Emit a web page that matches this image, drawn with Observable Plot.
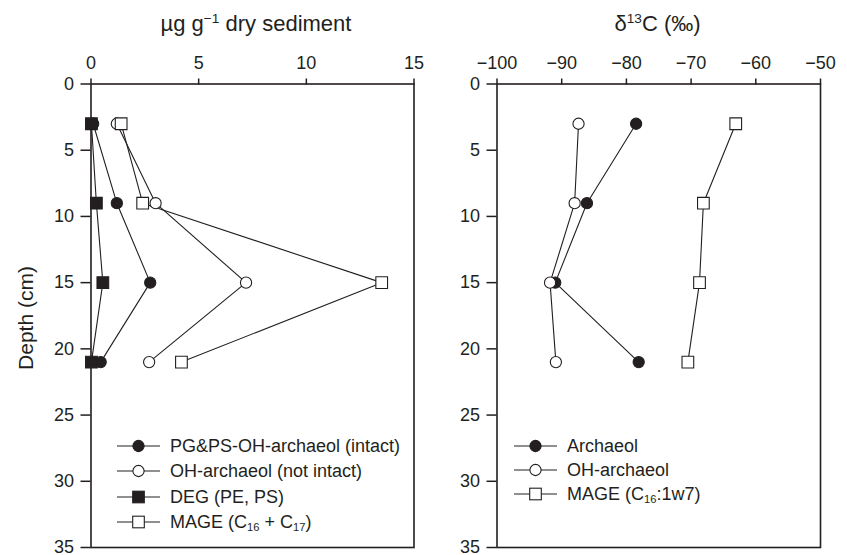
<!DOCTYPE html>
<html>
<head>
<meta charset="utf-8">
<script src="https://cdn.jsdelivr.net/npm/d3@7"></script>
<script src="https://cdn.jsdelivr.net/npm/@observablehq/plot@0.6"></script>
<style>
  body { margin: 0; background: #fff; }
  #wrap { position: relative; width: 847px; height: 555px; overflow: hidden;
          font-family: "Liberation Sans", Arial, Helvetica, sans-serif; color: #231f20; }
  #wrap svg { position: absolute; top: 0; }
  .abs { position: absolute; white-space: nowrap; line-height: 1; }
  .sup { font-size: 0.62em; position: relative; top: -0.55em; }
  .sub { font-size: 0.62em; position: relative; top: 0.3em; }
  .row { position: absolute; display: flex; align-items: center; height: 20px; white-space: nowrap; font-size: 18px; line-height: 1; }
  .row svg { position: static !important; margin-right: 10px; }
</style>
</head>
<body>
<div id="wrap"></div>
<script>
// ---- data ----
const depths = [3, 9, 15, 21];                 // cm
// left panel: concentration, µg g-1 dry sediment
const pgpsIntact   = [0.1, 1.2, 2.75, 0.45];
const ohNotIntact  = [1.2, 3.0, 7.2, 2.7];
const degPEPS      = [0.02, 0.25, 0.55, 0.02];
const mageConc     = [1.4, 2.4, 13.5, 4.2];
// right panel: δ13C (‰)
const archaeolD13  = [-78.5, -86.1, -91.0, -78.1];
const ohArchD13    = [-87.4, -88.0, -91.8, -90.9];
const mageD13      = [-63.1, -68.1, -68.7, -70.5];

const xTicksLeft  = [0, 5, 10, 15];
const xTicksRight = [-100, -90, -80, -70, -60, -50];
const yTicks      = [0, 5, 10, 15, 20, 25, 30, 35];

const legendLeft = [
  {label: "PG&amp;PS-OH-archaeol (intact)", symbol: "circle", filled: true},
  {label: "OH-archaeol (not intact)", symbol: "circle", filled: false},
  {label: "DEG (PE, PS)", symbol: "square", filled: true},
  {label: "MAGE (C<span class='sub'>16</span> + C<span class='sub'>17</span>)", symbol: "square", filled: false}
];
const legendRight = [
  {label: "Archaeol", symbol: "circle", filled: true},
  {label: "OH-archaeol", symbol: "circle", filled: false},
  {label: "MAGE (C<span class='sub'>16</span>:1w7)", symbol: "square", filled: false}
];

const ink = "#231f20";
const font = "'Liberation Sans', Arial, Helvetica, sans-serif";
const rows = vals => depths.map((d, i) => ({depth: d, value: vals[i]}));

function seriesMarks(vals, symbol, filled) {
  const data = rows(vals);
  return [
    Plot.line(data, {x: "value", y: "depth", stroke: ink, strokeWidth: 1.1})
  ];
}
function dotMarks(vals, symbol, filled) {
  const data = rows(vals);
  return Plot.dot(data, {x: "value", y: "depth", symbol,
    r: symbol === "square" ? 6.6 : 5.6,
    fill: filled ? ink : "#fff", stroke: ink, strokeWidth: 1.1});
}

const wrap = document.getElementById("wrap");

const left = Plot.plot({
  width: 430, height: 555,
  marginLeft: 90.5, marginRight: 16.5, marginTop: 83.5, marginBottom: 8,
  style: {fontFamily: font, fontSize: "18px", color: ink, background: "transparent", overflow: "visible"},
  x: {domain: [0, 15]},
  y: {domain: [0, 35], reverse: true},
  marks: [
    Plot.axisX({anchor: "top", ticks: xTicksLeft, tickSize: 6, tickPadding: 9, label: null, strokeWidth: 1.5}),
    Plot.axisY({anchor: "left", ticks: yTicks, tickSize: 10, tickPadding: 7, label: null, strokeWidth: 1.5}),
    Plot.frame({stroke: ink, strokeWidth: 1.6}),
    ...seriesMarks(degPEPS), ...seriesMarks(pgpsIntact), ...seriesMarks(ohNotIntact), ...seriesMarks(mageConc),
    dotMarks(degPEPS, "square", true),
    dotMarks(pgpsIntact, "circle", true),
    dotMarks(ohNotIntact, "circle", false),
    dotMarks(mageConc, "square", false)
  ]
});
left.style.left = "0px";
wrap.appendChild(left);

const right = Plot.plot({
  width: 417, height: 555,
  marginLeft: 66.5, marginRight: 27, marginTop: 83.5, marginBottom: 8,
  style: {fontFamily: font, fontSize: "18px", color: ink, background: "transparent", overflow: "visible"},
  x: {domain: [-100, -50]},
  y: {domain: [0, 35], reverse: true},
  marks: [
    Plot.axisX({anchor: "top", ticks: xTicksRight, tickSize: 6, tickPadding: 9, label: null, strokeWidth: 1.5}),
    Plot.axisY({anchor: "left", ticks: yTicks, tickSize: 10, tickPadding: 7, label: null, strokeWidth: 1.5}),
    Plot.frame({stroke: ink, strokeWidth: 1.6}),
    ...seriesMarks(archaeolD13), ...seriesMarks(ohArchD13), ...seriesMarks(mageD13),
    dotMarks(archaeolD13, "circle", true),
    dotMarks(ohArchD13, "circle", false),
    dotMarks(mageD13, "square", false)
  ]
});
right.style.left = "430px";
wrap.appendChild(right);

// ---- titles ----
function addText(html, x, y, size, extra) {
  const d = document.createElement("div");
  d.className = "abs";
  d.innerHTML = html;
  d.style.fontSize = size + "px";
  d.style.left = x + "px";
  d.style.top = y + "px";
  d.style.transform = extra || "translateX(-50%)";
  wrap.appendChild(d);
  return d;
}
addText("µg g<span class='sup'>−1</span> dry sediment", 256, 12.5, 22);
addText("δ<span class='sup'>13</span>C (‰)", 657.5, 12.5, 22);
addText("Depth (cm)", 25, 318, 21, "translate(-50%,-50%) rotate(-90deg)");

// ---- legends ----
function swatch(sym, filled) {
  const w = 43, h = 20, cx = 21.5, cy = 10;
  const fill = filled ? ink : "#fff";
  const m = sym === "circle"
    ? `<circle cx="${cx}" cy="${cy}" r="5.6" fill="${fill}" stroke="${ink}" stroke-width="1.1"/>`
    : `<rect x="${cx - 5.8}" y="${cy - 5.8}" width="11.6" height="11.6" fill="${fill}" stroke="${ink}" stroke-width="1.1"/>`;
  return `<svg width="${w}" height="${h}"><line x1="0" x2="${w}" y1="${cy}" y2="${cy}" stroke="${ink}" stroke-width="1.1"/>${m}</svg>`;
}
function addLegend(items, x, y0, step) {
  items.forEach((it, i) => {
    const r = document.createElement("div");
    r.className = "row";
    r.style.left = x + "px";
    r.style.top = (y0 + i * step - 10) + "px";
    r.innerHTML = swatch(it.symbol, it.filled) + `<span>${it.label}</span>`;
    wrap.appendChild(r);
  });
}
addLegend(legendLeft, 117, 446, 25.3);
addLegend(legendRight, 514, 446, 24);
</script>
</body>
</html>
